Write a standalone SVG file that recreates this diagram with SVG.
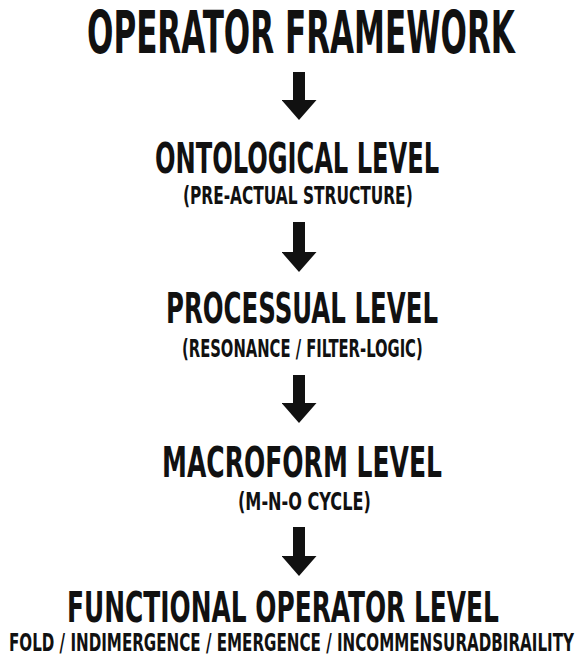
<svg xmlns="http://www.w3.org/2000/svg" width="576" height="656" viewBox="0 0 576 656">
  <style>
    text { font-family: "DejaVu Sans Condensed", "DejaVu Sans", "Liberation Sans", sans-serif; font-weight: bold; fill: #111; }
    .title { font-size: 58px; }
    .head { font-size: 42px; }
    .sub { font-size: 24px; }
    .arrow { stroke: #111; stroke-width: 12; fill: none; }
  </style>
  <defs>
    <marker id="ah" markerUnits="userSpaceOnUse" viewBox="0 0 20 35" refX="0" refY="17.5" markerWidth="20" markerHeight="35" orient="auto">
      <path d="M0,0 L20,17.5 L0,35 Z" fill="#111"/>
    </marker>
  </defs>
  <rect width="576" height="656" fill="#fff"/>

  <g id="connectors">
    <line class="arrow" x1="299" y1="72" x2="299" y2="100" marker-end="url(#ah)"/>
    <line class="arrow" x1="299" y1="222" x2="299" y2="252" marker-end="url(#ah)"/>
    <line class="arrow" x1="299" y1="375" x2="299" y2="403" marker-end="url(#ah)"/>
    <line class="arrow" x1="299" y1="527" x2="299" y2="556" marker-end="url(#ah)"/>
  </g>

  <g id="operator-framework">
    <text class="title" transform="translate(87,53) scale(0.591,1)" x="0" y="0" textLength="724" lengthAdjust="spacingAndGlyphs">OPERATOR FRAMEWORK</text>
  </g>

  <g id="ontological-level">
    <text class="head" transform="translate(155,173) scale(0.637,1)" x="0" y="0" textLength="446" lengthAdjust="spacingAndGlyphs">ONTOLOGICAL LEVEL</text>
    <text class="sub" transform="translate(183,204) scale(0.72,1)" x="0" y="0" textLength="319" lengthAdjust="spacingAndGlyphs">(PRE-ACTUAL STRUCTURE)</text>
  </g>

  <g id="processual-level">
    <text class="head" transform="translate(166,323) scale(0.643,1)" x="0" y="0" textLength="423" lengthAdjust="spacingAndGlyphs">PROCESSUAL LEVEL</text>
    <text class="sub" transform="translate(182,357) scale(0.68,1)" x="0" y="0" textLength="354" lengthAdjust="spacingAndGlyphs">(RESONANCE / FILTER-LOGIC)</text>
  </g>

  <g id="macroform-level">
    <text class="head" transform="translate(162,477) scale(0.662,1)" x="0" y="0" textLength="423" lengthAdjust="spacingAndGlyphs">MACROFORM LEVEL</text>
    <text class="sub" transform="translate(238,510) scale(0.75,1)" x="0" y="0" textLength="177" lengthAdjust="spacingAndGlyphs">(M-N-O CYCLE)</text>
  </g>

  <g id="functional-operator-level">
    <text class="head" transform="translate(67,622) scale(0.625,1)" x="0" y="0" font-size="44" textLength="691" lengthAdjust="spacingAndGlyphs">FUNCTIONAL OPERATOR LEVEL</text>
    <text class="sub" transform="translate(9,651) scale(0.70,1)" x="0" y="0" textLength="807" lengthAdjust="spacingAndGlyphs">FOLD / INDIMERGENCE / EMERGENCE / INCOMMENSURADBIRAILITY</text>
  </g>
</svg>
